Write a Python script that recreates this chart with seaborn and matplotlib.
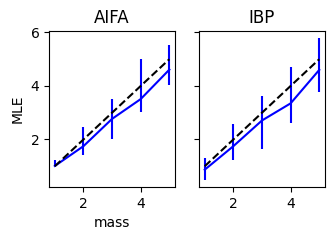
import numpy as np
import pandas as pd
import matplotlib
matplotlib.use("Agg")
import matplotlib.pyplot as plt
import seaborn as sns

# true mass values and MLE estimates per method
mass = [1, 2, 3, 4, 5]

aifa_mle = [1.01, 1.75, 2.77, 3.51, 4.61]
aifa_low = [1.00, 1.43, 2.01, 3.01, 4.02]
aifa_high = [1.25, 2.48, 3.52, 5.00, 5.52]

ibp_mle = [0.87, 1.75, 2.71, 3.35, 4.60]
ibp_low = [0.49, 1.23, 1.64, 2.61, 3.76]
ibp_high = [1.29, 2.56, 3.64, 4.71, 5.79]

methods = ["AIFA", "IBP"]
results = {
    "AIFA": (aifa_mle, aifa_low, aifa_high),
    "IBP": (ibp_mle, ibp_low, ibp_high),
}

fig, axes = plt.subplots(1, 2, figsize=(3.34, 2.4), dpi=100, sharey=True)
fig.subplots_adjust(left=0.147, right=0.973, top=0.871, bottom=0.221, wspace=0.19)

for ax, name in zip(axes, methods):
    mle, low, high = results[name]
    df = pd.DataFrame({"mass": mass, "MLE": mle})
    sns.lineplot(data=df, x="mass", y="MLE", ax=ax, color="blue", linewidth=1.5)
    ax.vlines(mass, low, high, color="blue", linewidth=1.5)
    sns.lineplot(x=mass, y=mass, ax=ax, color="black", linestyle="--", linewidth=1.5)
    ax.set_title(name, fontsize=12)
    ax.set_xlabel("")
    ax.set_ylabel("")

axes[0].set_xlabel("mass")
axes[0].set_ylabel("MLE")

plt.savefig("out.png", dpi=100)
